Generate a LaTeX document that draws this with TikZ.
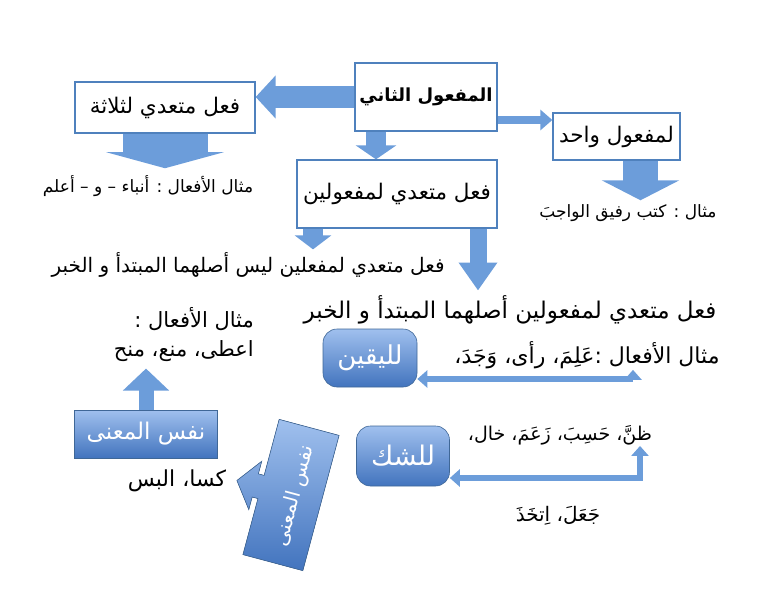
\documentclass[tikz,border=0pt]{standalone}
\usepackage{fontspec}
\newfontfamily\arabicfont[Script=Arabic]{DejaVu Sans}
\TeXXeTstate=1
\usetikzlibrary{arrows.meta}
\definecolor{boxline}{RGB}{79,129,189}
\definecolor{arrowblue}{RGB}{108,157,218}
\definecolor{lighttop}{RGB}{160,192,238}
\definecolor{darkbottom}{RGB}{66,116,190}
\newcommand{\artext}[1]{\beginR #1\endR}
\tikzset{
  whitebox/.style={draw=boxline, line width=1.3pt, fill=white, inner sep=2pt,
    font=\arabicfont\fontsize{21.5}{25}\selectfont},
  bluebox/.style={draw=boxline!80!black, line width=0.6pt, top color=lighttop,
    bottom color=darkbottom, text=white, font=\arabicfont\fontsize{#1}{#1}\selectfont},
  bluebox/.default=24,
  plaintext/.style={inner sep=1pt, font=\arabicfont\fontsize{#1}{#1}\selectfont},
  plaintext/.default=21,
  blockarrow/.style args={#1/#2/#3}{draw=arrowblue, line width=#1,
    -{Triangle[width=#2,length=#3]}},
  linkarrow/.style={draw=arrowblue, line width=6pt, line join=miter,
    {Triangle[width=17pt,length=10pt]}-{Triangle[width=17pt,length=10pt]}},
}
\begin{document}
\begin{tikzpicture}[x=1pt,y=1pt]
\useasboundingbox (0,0) rectangle (768,-594);

% boxes
\node[whitebox, minimum width=142, minimum height=68] (main) at (426,-97) {\fontsize{18}{22}\selectfont\bfseries\artext{المفعول الثاني}};
\node[whitebox, minimum width=180, minimum height=51] (thalatha) at (165,-107.5) {\artext{فعل متعدي لثلاثة}};
\node[whitebox, minimum width=200, minimum height=68] (lmaf) at (397,-194) {\artext{فعل متعدي لمفعولين}};
\node[whitebox, minimum width=127, minimum height=47] (wahid) at (616.5,-136.5) {\artext{لمفعول واحد}};

% texts
\node[plaintext=17] (exthree) at (148,-186) {\artext{مثال الأفعال : أنباء – و – أعلم}};
\node[plaintext=17] (exone) at (628,-213) {\artext{مثال : كتب رفيق الواجبَ}};
\node[plaintext=20] (laysa) at (248,-265) {\artext{فعل متعدي لمفعلين ليس أصلهما المبتدأ و الخبر}};
\node[plaintext=23] (asl) at (510,-310) {\artext{فعل متعدي لمفعولين أصلهما المبتدأ و الخبر}};
\node[plaintext=22] (yaqinex) at (587,-355) {\artext{مثال الأفعال :عَلِمَ، رأى، وَجَدَ،}};
\node[plaintext=19] (shakex) at (560,-435) {\artext{ظنَّ، حَسِبَ، زَعَمَ، خال،}};
\node[plaintext=20] (jaal) at (558,-516) {\artext{جَعَلَ، اِتخَذَ}};
\node[plaintext, align=right, anchor=north east] (giveex) at (255,-306) {\artext{مثال الأفعال :}\\[8pt]\artext{اعطى، منع، منح}};
\node[plaintext=22] (kasa) at (177,-481) {\artext{كسا، البس}};

% blue boxes
\node[bluebox=26, rounded corners=14pt, minimum width=94, minimum height=58] (yaqin) at (370,-358) {\artext{لليقين}};
\node[bluebox=27, rounded corners=14pt, minimum width=93, minimum height=60] (shak) at (403,-456) {\artext{للشك}};
\node[bluebox=23, minimum width=143, minimum height=48] (nafs) at (146,-434) {\artext{نفس المعنى}};

% tilted callout
\begin{scope}[shift={(291,-495)}, rotate=-105]
\fill[draw=boxline!80!black, line width=0.6pt, top color=lighttop, bottom color=darkbottom]
  (-70,31) -- (70,31) -- (70,-31) -- (12,-31) -- (12,-37) -- (25,-37) -- (0,-56)
  -- (-25,-37) -- (-12,-37) -- (-12,-31) -- (-70,-31) -- cycle;
\node[rotate=75, text=white, font=\arabicfont\fontsize{20}{24}\selectfont] (nafstilt) at (0,4) {\artext{نفس المعنى}};
\end{scope}

% arrows
\draw[blockarrow=22pt/42pt/20pt] (main.west) -- (main.west -| thalatha.east);
\draw[blockarrow=85pt/117pt/16pt, shorten >=6pt] (thalatha.south) -- (thalatha.south |- exthree.north);
\coordinate (d0) at ([xshift=-50pt]main.south);
\draw[blockarrow=20pt/40pt/14pt] (d0) -- (d0 |- lmaf.north);
\coordinate (r0) at ([yshift=-23pt]main.east);
\draw[blockarrow=8pt/20pt/12pt] (r0) -- (r0 -| wahid.west);
\coordinate (w0) at ([xshift=24pt]wahid.south);
\draw[blockarrow=35pt/77pt/20pt, shorten >=3pt] (w0) -- (w0 |- exone.north);
\coordinate (l1) at ([xshift=-84pt]lmaf.south);
\draw[blockarrow=20pt/36pt/14pt, shorten >=2pt] (l1) -- (l1 |- laysa.north);
\coordinate (l2) at ([xshift=81pt]lmaf.south);
\draw[blockarrow=17pt/37pt/28pt, shorten >=4pt] (l2) -- (l2 |- asl.north);
\draw[linkarrow] ([yshift=-21pt]yaqin.east) -| ([xshift=46pt]yaqinex.south);
\draw[linkarrow] ([yshift=-22pt]shak.east) -| ([xshift=80pt]shakex.south);
\draw[blockarrow=15pt/45pt/22pt, shorten >=6pt] (nafs.north) -- (nafs.north |- giveex.south);
\end{tikzpicture}
\end{document}
